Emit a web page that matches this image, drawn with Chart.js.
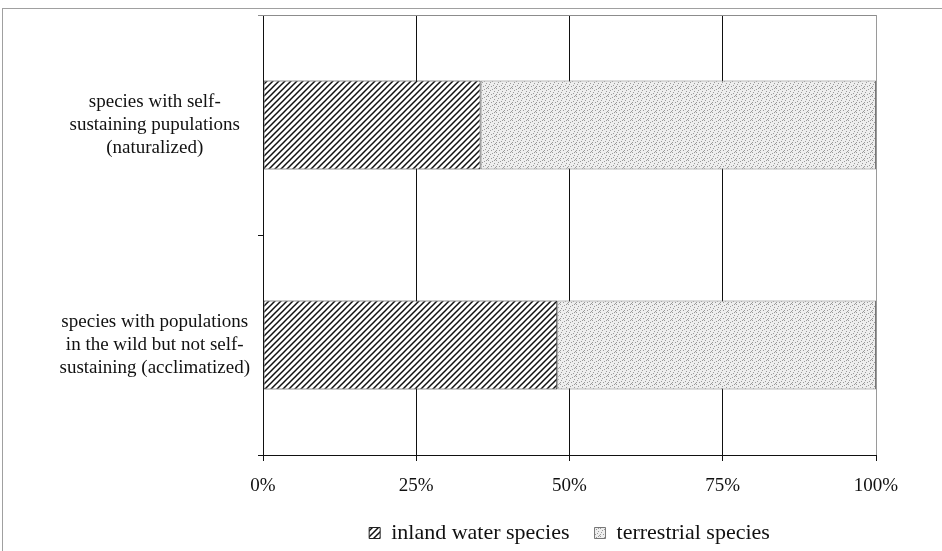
<!DOCTYPE html>
<html>
<head>
    <title>inland water / terrestrial species</title>
    <script src="https://cdn.jsdelivr.net/npm/chart.js"></script>
    <style>
        body {
            margin: 0;
            background-color: #fff;
        }

        #wrap {
            position: relative;
            width: 942px;
            height: 551px;
        }

        /* thin grey frame of the scanned figure */
        #frame {
            position: absolute;
            left: 2px;
            top: 8px;
            right: 0;
            bottom: -2px;
            border-left: 1px solid #a0a0a0;
            border-top: 1px solid #a0a0a0;
            pointer-events: none;
        }
    </style>
</head>
<body>
    <div id="wrap">
        <canvas id="speciesChart" width="942" height="551"></canvas>
        <div id="frame"></div>
    </div>

    <script>
        // data (percent of each group)
        var categories = [
            ['species with self-', 'sustaining pupulations', '(naturalized)'],
            ['species with populations', 'in the wild but not self-', 'sustaining (acclimatized)']
        ];
        var inlandWater = [35.5, 48];
        var terrestrial = [64.5, 52];
        var seriesNames = ['inland water species', 'terrestrial species'];
        var xTickLabels = ['0%', '25%', '50%', '75%', '100%'];

        var serif = '"Liberation Serif", "Times New Roman", serif';

        // hatch "////" fill
        function makeHatch() {
            var c = document.createElement('canvas');
            c.width = 6;
            c.height = 6;
            var g = c.getContext('2d');
            g.fillStyle = '#fff';
            g.fillRect(0, 0, 6, 6);
            g.strokeStyle = '#111';
            g.lineWidth = 1.5;
            g.beginPath();
            g.moveTo(-1, 7); g.lineTo(7, -1);
            g.moveTo(-4, 4); g.lineTo(4, -4);
            g.moveTo(2, 10); g.lineTo(10, 2);
            g.stroke();
            return g.createPattern(c, 'repeat');
        }

        // fine grey stipple fill
        function makeDots() {
            var c = document.createElement('canvas');
            c.width = 8;
            c.height = 8;
            var g = c.getContext('2d');
            g.fillStyle = '#eeeeee';
            g.fillRect(0, 0, 8, 8);
            var dots = [[0, 0], [4, 1], [2, 2], [6, 3], [1, 4], [5, 5], [3, 6], [7, 7], [6, 0], [0, 6]];
            g.fillStyle = '#9a9a9a';
            dots.forEach(function (d) { g.fillRect(d[0], d[1], 1, 1); });
            return g.createPattern(c, 'repeat');
        }

        // grey line along the top of the plot area
        var topFrame = {
            id: 'topFrame',
            afterDraw: function (chart) {
                var a = chart.chartArea;
                var g = chart.ctx;
                g.save();
                g.strokeStyle = '#8c8c8c';
                g.lineWidth = 1;
                g.beginPath();
                g.moveTo(a.left - 5, a.top + 0.5);
                g.lineTo(a.right, a.top + 0.5);
                g.stroke();
                g.restore();
            }
        };

        // trim the legend box so the row sits near the bottom edge
        var legendGap = {
            id: 'legendGap',
            beforeLayout: function (chart) {
                var lg = chart.legend;
                if (lg && !lg._gapDone) {
                    var fit = lg.fit;
                    lg.fit = function () {
                        fit.call(this);
                        this.height -= 3;
                    };
                    lg._gapDone = true;
                }
            }
        };

        var ctx = document.getElementById('speciesChart').getContext('2d');
        var chart = new Chart(ctx, {
            type: 'bar',
            data: {
                labels: categories,
                datasets: [{
                    label: seriesNames[0],
                    data: inlandWater,
                    backgroundColor: makeHatch(),
                    borderColor: '#222',
                    borderWidth: 1,
                    borderSkipped: false,
                    barPercentage: 0.405,
                    categoryPercentage: 1
                }, {
                    label: seriesNames[1],
                    data: terrestrial,
                    backgroundColor: makeDots(),
                    borderColor: '#777',
                    borderWidth: 1,
                    borderSkipped: false,
                    barPercentage: 0.405,
                    categoryPercentage: 1
                }]
            },
            options: {
                indexAxis: 'y',
                responsive: false,
                animation: false,
                layout: {
                    padding: { top: 15, right: 66, left: 0, bottom: 0 }
                },
                scales: {
                    x: {
                        stacked: true,
                        min: 0,
                        max: 100,
                        afterFit: function (axis) {
                            axis.height = 42;
                            axis.paddingLeft = 0;
                            axis.paddingRight = 0;
                        },
                        ticks: {
                            stepSize: 25,
                            padding: 14,
                            color: '#111',
                            font: { family: serif, size: 19 },
                            callback: function (value) {
                                return xTickLabels[value / 25];
                            }
                        },
                        grid: {
                            color: function (c) {
                                return c.tick && c.tick.value === 100 ? '#9a9a9a' : '#111';
                            },
                            tickColor: '#111',
                            tickLength: 6,
                            lineWidth: 1
                        },
                        border: { color: '#111' }
                    },
                    y: {
                        stacked: true,
                        afterFit: function (axis) {
                            axis.width = 263;
                            axis.paddingTop = 0;
                            axis.paddingBottom = 0;
                        },
                        ticks: {
                            crossAlign: 'center',
                            padding: 8,
                            color: '#111',
                            font: { family: serif, size: 19, lineHeight: 1.21 }
                        },
                        grid: {
                            offset: true,
                            drawOnChartArea: false,
                            tickLength: 5,
                            color: '#111'
                        },
                        border: { color: '#111' }
                    }
                },
                plugins: {
                    legend: {
                        position: 'bottom',
                        fullSize: false,
                        labels: {
                            boxWidth: 11,
                            boxHeight: 11,
                            padding: 25,
                            color: '#111',
                            font: { family: serif, size: 22 }
                        }
                    },
                    tooltip: { enabled: false }
                }
            },
            plugins: [topFrame, legendGap]
        });
    </script>
</body>
</html>
